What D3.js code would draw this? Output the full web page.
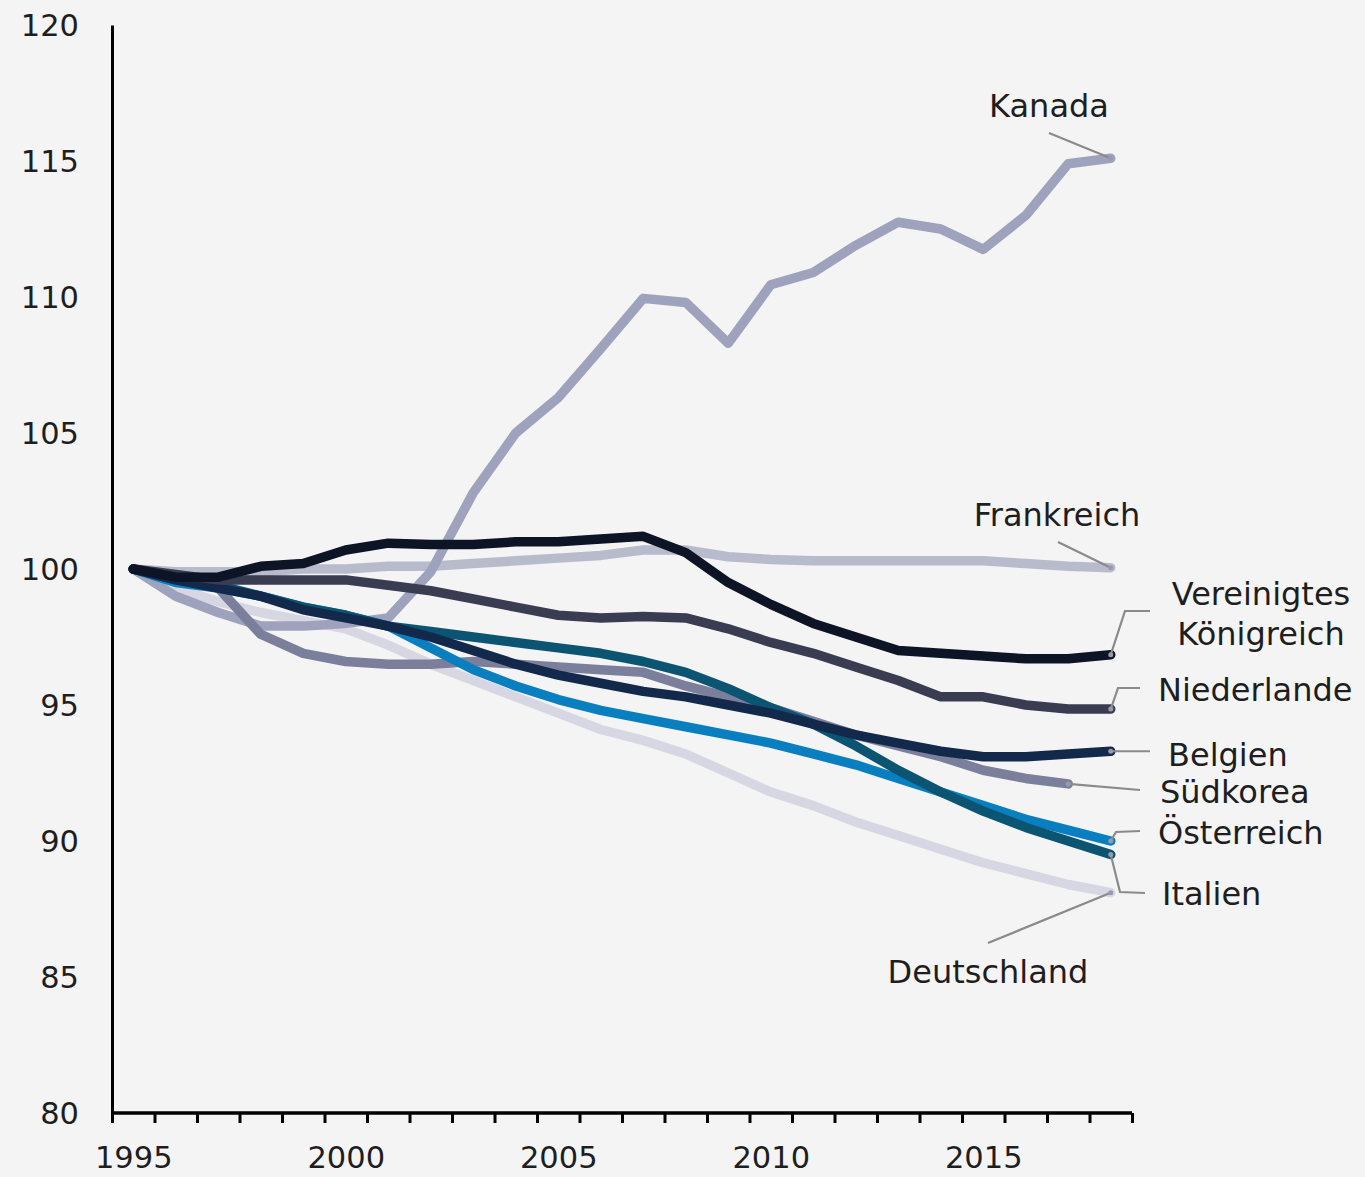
<!DOCTYPE html>
<html>
<head>
<meta charset="utf-8">
<script src="https://cdn.jsdelivr.net/npm/d3@7"></script>
<style>
  html, body { margin: 0; padding: 0; background: #f4f4f4; }
  svg { display: block; }
  text { font-family: "DejaVu Sans", Verdana, sans-serif; fill: #1e1e1e; }
</style>
</head>
<body>
<svg id="chart" width="1365" height="1177"></svg>
<script>
// Index, 1995 = 100
const years = d3.range(1995, 2019);
const yTicks = [80, 85, 90, 95, 100, 105, 110, 115, 120];
const xLabelYears = [1995, 2000, 2005, 2010, 2015];

const kanada = [100, 99.0, 98.4, 97.9, 97.9, 98.0, 98.2, 99.9, 102.8, 105.0, 106.3, 108.1, 109.95, 109.8, 108.3, 110.45, 110.9, 111.9, 112.75, 112.5, 111.75, 113.0, 114.9, 115.1];
const frankreich = [100, 99.9, 99.9, 99.9, 100.0, 100.0, 100.1, 100.1, 100.2, 100.3, 100.4, 100.5, 100.7, 100.7, 100.45, 100.35, 100.3, 100.3, 100.3, 100.3, 100.3, 100.2, 100.1, 100.05];
const vereinigtesKoenigreich = [100, 99.7, 99.7, 100.1, 100.2, 100.7, 100.95, 100.9, 100.9, 101.0, 101.0, 101.1, 101.2, 100.6, 99.5, 98.7, 98.0, 97.5, 97.0, 96.9, 96.8, 96.7, 96.7, 96.85];
const niederlande = [100, 99.8, 99.6, 99.6, 99.6, 99.6, 99.4, 99.2, 98.9, 98.6, 98.3, 98.2, 98.25, 98.2, 97.8, 97.3, 96.9, 96.4, 95.9, 95.3, 95.3, 95.0, 94.85, 94.85];
const belgien = [100, 99.6, 99.3, 99.0, 98.5, 98.2, 97.9, 97.5, 97.0, 96.5, 96.1, 95.8, 95.5, 95.3, 95.0, 94.7, 94.3, 93.9, 93.6, 93.3, 93.1, 93.1, 93.2, 93.3];
const suedkorea = [100, 99.7, 99.3, 97.6, 96.9, 96.6, 96.5, 96.5, 96.6, 96.5, 96.4, 96.3, 96.2, 95.7, 95.3, 94.9, 94.4, 93.9, 93.5, 93.1, 92.6, 92.3, 92.1];
const oesterreich = [100, 99.5, 99.3, 99.0, 98.6, 98.3, 97.9, 97.1, 96.3, 95.7, 95.2, 94.8, 94.5, 94.2, 93.9, 93.6, 93.2, 92.8, 92.3, 91.8, 91.3, 90.8, 90.4, 90.0];
const italien = [100, 99.6, 99.4, 99.0, 98.6, 98.3, 97.9, 97.7, 97.5, 97.3, 97.1, 96.9, 96.6, 96.2, 95.6, 94.9, 94.3, 93.5, 92.6, 91.8, 91.1, 90.5, 90.0, 89.5];
const deutschland = [100, 99.3, 98.8, 98.4, 98.1, 97.8, 97.2, 96.5, 95.9, 95.3, 94.7, 94.1, 93.7, 93.2, 92.5, 91.8, 91.3, 90.7, 90.2, 89.7, 89.2, 88.8, 88.4, 88.1];

// drawing order: lightest first, darkest on top
const series = [
  { name: "Deutschland", values: deutschland, color: "#d7d7e3" },
  { name: "Frankreich", values: frankreich, color: "#b8bbcb" },
  { name: "Kanada", values: kanada, color: "#9ea2bc" },
  { name: "Südkorea", values: suedkorea, color: "#7b7f9b" },
  { name: "Österreich", values: oesterreich, color: "#0a7fc0" },
  { name: "Italien", values: italien, color: "#0b5472" },
  { name: "Belgien", values: belgien, color: "#12294b" },
  { name: "Niederlande", values: niederlande, color: "#3a3d52" },
  { name: "Vereinigtes Königreich", values: vereinigtesKoenigreich, color: "#0c1426" }
];

const svg = d3.select("#chart");
const plotLeft = 112, plotRight = 1132, plotTop = 25, plotBottom = 1113;

// years sit at the centre of their slot; ticks mark slot boundaries
const x = d3.scaleLinear().domain([1994.5, 2018.5]).range([plotLeft, plotRight]);
const y = d3.scaleLinear().domain([80, 120]).range([plotBottom, plotTop]);

// lines
const line = d3.line()
  .x((d, i) => x(years[i]))
  .y(d => y(d));

svg.append("g")
  .selectAll("path")
  .data(series)
  .join("path")
  .attr("d", s => line(s.values))
  .attr("fill", "none")
  .attr("stroke", s => s.color)
  .attr("stroke-width", 9.5)
  .attr("stroke-linecap", "round")
  .attr("stroke-linejoin", "round");

// y axis
const yAxis = svg.append("g")
  .attr("transform", `translate(${plotLeft},0)`)
  .call(d3.axisLeft(y).tickValues(yTicks).tickSize(0).tickPadding(33).tickFormat(d3.format("d")));
yAxis.select(".domain").attr("stroke", "#000").attr("stroke-width", 3);
yAxis.selectAll("text").style("font-size", "30.5px").attr("dy", "0.36em");

// x axis: tick marks at year boundaries
const tickPos = d3.range(1994.5, 2019, 1);
const xAxis = svg.append("g")
  .attr("transform", `translate(0,${plotBottom})`)
  .call(d3.axisBottom(x).tickValues(tickPos).tickSize(10).tickFormat(""));
xAxis.select(".domain").attr("stroke", "#000").attr("stroke-width", 3.5).attr("d", `M${plotLeft},0H${plotRight}`);
xAxis.selectAll(".tick line").attr("stroke", "#000").attr("stroke-width", 3);

// x axis labels centred on their year
const xLab = svg.append("g")
  .attr("transform", `translate(0,${plotBottom})`)
  .call(d3.axisBottom(x).tickValues(xLabelYears).tickSize(0).tickPadding(33).tickFormat(d3.format("d")));
xLab.select(".domain").remove();
xLab.selectAll("text").style("font-size", "30.5px");

// series labels with leader lines
const lastPoint = s => [x(years[s.values.length - 1]), y(s.values[s.values.length - 1])];
const labels = [
  { name: "Kanada", lines: ["Kanada"], tx: 1049, ty: 117, anchor: "middle",
    leader: p => [[1049, 133], p] },
  { name: "Frankreich", lines: ["Frankreich"], tx: 1057, ty: 526, anchor: "middle",
    leader: p => [[1058, 542], p] },
  { name: "Vereinigtes Königreich", lines: ["Vereinigtes", "Königreich"], tx: 1261, ty: 605, anchor: "middle",
    leader: p => [p, [1125, 611], [1150, 611]] },
  { name: "Niederlande", lines: ["Niederlande"], tx: 1158, ty: 701, anchor: "start",
    leader: p => [p, [1118, 688], [1140, 688]] },
  { name: "Belgien", lines: ["Belgien"], tx: 1168, ty: 766, anchor: "start",
    leader: p => [p, [1150, p[1]]] },
  { name: "Südkorea", lines: ["Südkorea"], tx: 1160, ty: 803, anchor: "start",
    leader: p => [p, [1140, 790]] },
  { name: "Österreich", lines: ["Österreich"], tx: 1158, ty: 844, anchor: "start",
    leader: p => [p, [1116, 832], [1140, 831]] },
  { name: "Italien", lines: ["Italien"], tx: 1162, ty: 905, anchor: "start",
    leader: p => [p, [1120, 892], [1145, 893]] },
  { name: "Deutschland", lines: ["Deutschland"], tx: 988, ty: 983, anchor: "middle",
    leader: p => [[988, 943], p] }
];

const lab = svg.append("g");
labels.forEach(l => {
  const s = series.find(d => d.name === l.name);
  const p = lastPoint(s);
  lab.append("path")
    .attr("d", d3.line()(l.leader(p)))
    .attr("fill", "none")
    .attr("stroke", "#8a8a8a")
    .attr("stroke-width", 2.2);
  const t = lab.append("text")
    .attr("x", l.tx).attr("y", l.ty)
    .attr("text-anchor", l.anchor)
    .style("font-size", "32px");
  l.lines.forEach((txt, i) => {
    t.append("tspan").attr("x", l.tx).attr("dy", i === 0 ? 0 : 40).text(txt);
  });
});

// small end markers on each series
svg.append("g")
  .selectAll("circle")
  .data(series)
  .join("circle")
  .attr("cx", s => lastPoint(s)[0])
  .attr("cy", s => lastPoint(s)[1])
  .attr("r", 2.5)
  .attr("fill", "#9a9aa8");
</script>
</body>
</html>
